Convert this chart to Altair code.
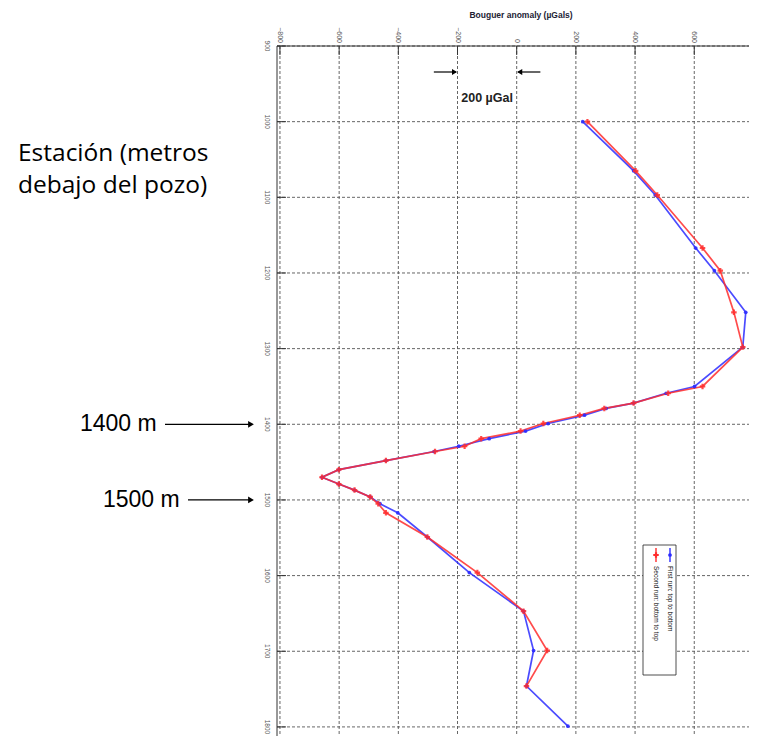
import altair as alt
import pandas as pd

# Station depth (m below wellhead) and Bouguer anomaly (µGal) for each run
depth = [1000, 1065, 1097, 1167, 1197, 1252, 1298, 1350, 1359, 1372, 1379, 1388,
         1399, 1409, 1419, 1429, 1436, 1448, 1460, 1470, 1479, 1487, 1496, 1505,
         1517, 1549, 1596, 1647, 1699, 1746, 1799]
run1 = [223, 395, 468, 605, 668, 774, 764, 601, 505, 395, 302, 229,
        106, 30, -93, -196, -279, -442, -601, -658, -601, -548, -495, -462,
        -402, -302, -160, 23, 57, 33, 173]
run2 = [239, 402, 475, 628, 688, 734, 764, 628, 512, 395, 296, 213,
        90, 13, -120, -176, -276, -442, -601, -658, -601, -548, -495, -468,
        -442, -302, -133, 23, 103, 33, None]
series_names = ["First run: top to bottom", "Second run: bottom to top"]
series_colors = ["#2b2bff", "#ff2b2b"]
x_ticks = [-800, -600, -400, -200, 0, 200, 400, 600]
y_ticks = [900, 1000, 1100, 1200, 1300, 1400, 1500, 1600, 1700, 1800]

W, H = 472, 690

rows = []
for i, d in enumerate(depth):
    rows.append({"serie": series_names[0], "depth": d, "anom": run1[i], "idx": i})
    if run2[i] is not None:
        rows.append({"serie": series_names[1], "depth": d, "anom": run2[i], "idx": i})
df = pd.DataFrame(rows)

xs = alt.Scale(domain=[-810, 785], nice=False, zero=False)
ys = alt.Scale(domain=[900, 1812], nice=False, zero=False, reverse=True)
color = alt.Color("serie:N", scale=alt.Scale(domain=series_names, range=series_colors), legend=None)


def X(f):
    return alt.X(f, scale=xs, axis=None)


def Y(f):
    return alt.Y(f, scale=ys, axis=None)


xt = pd.DataFrame({"v": x_ticks})
yt = pd.DataFrame({"v": y_ticks})
one = pd.DataFrame({"k": [0]})

# grid, frame, ticks, labels
grid_v = alt.Chart(xt).mark_rule(color="#555", strokeWidth=0.9, strokeDash=[3, 2]).encode(
    x=X("v:Q"), y=alt.value(0), y2=alt.value(H))
grid_h = alt.Chart(yt).mark_rule(color="#555", strokeWidth=0.9, strokeDash=[3, 2]).encode(
    y=Y("v:Q"), x=alt.value(0), x2=alt.value(W))
dom_top = alt.Chart(one).mark_rule(color="#333", strokeWidth=1).encode(
    x=alt.value(0), x2=alt.value(W), y=alt.value(0))
dom_left = alt.Chart(one).mark_rule(color="#333", strokeWidth=1).encode(
    y=alt.value(0), y2=alt.value(H), x=alt.value(0))
ticks_top = alt.Chart(xt).mark_rule(color="#333", strokeWidth=1).encode(
    x=X("v:Q"), y=alt.value(0), y2=alt.value(9))
ticks_left = alt.Chart(yt).mark_rule(color="#333", strokeWidth=1).encode(
    y=Y("v:Q"), x=alt.value(0), x2=alt.value(9))
lab_top = alt.Chart(xt).mark_text(angle=90, align="right", baseline="middle", fontSize=7,
                                  color="#555").encode(
    x=X("v:Q"), y=alt.value(-3), text=alt.Text("v:Q", format="d"))
lab_left = alt.Chart(yt).mark_text(angle=90, align="center", baseline="top", fontSize=6.5,
                                   color="#555").encode(
    y=Y("v:Q"), x=alt.value(-7), text=alt.Text("v:Q", format="d"))

lines = alt.Chart(df).mark_line(strokeWidth=1.7, opacity=0.85).encode(
    x=X("anom:Q"), y=Y("depth:Q"), color=color, order="idx:Q")
pts_blue = alt.Chart(df).transform_filter(alt.datum.serie == series_names[0]).mark_point(
    shape="circle", filled=True, size=14, opacity=0.9).encode(
    x=X("anom:Q"), y=Y("depth:Q"), color=color)
pts_red = alt.Chart(df).transform_filter(alt.datum.serie == series_names[1]).mark_point(
    shape="cross", filled=True, size=30, opacity=0.85).encode(
    x=X("anom:Q"), y=Y("depth:Q"), color=color)

title = alt.Chart(one).mark_text(text="Bouguer anomaly (µGals)", fontSize=8.5, fontWeight="bold",
                                 color="#223", align="center", baseline="middle").encode(
    x=alt.value(244), y=alt.value(-31))

est1 = alt.Chart(one).mark_text(text="Estación (metros", font="Open Sans", fontSize=24.5,
                                color="black", align="left", baseline="alphabetic").encode(
    x=alt.value(-259), y=alt.value(115))
est2 = alt.Chart(one).mark_text(text="debajo del pozo)", font="Open Sans", fontSize=24.5,
                                color="black", align="left", baseline="alphabetic").encode(
    x=alt.value(-259), y=alt.value(147))

mark_depths = pd.DataFrame({"d": [1400, 1500], "lab": ["1400 m", "1500 m"]})
lab1400 = alt.Chart(mark_depths).transform_filter(alt.datum.d == 1400).mark_text(
    fontSize=23, color="black", align="left", baseline="middle").encode(
    x=alt.value(-197), y=Y("d:Q"), text="lab:N")
lab1500 = alt.Chart(mark_depths).transform_filter(alt.datum.d == 1500).mark_text(
    fontSize=23, color="black", align="left", baseline="middle").encode(
    x=alt.value(-174), y=Y("d:Q"), text="lab:N")
arr1400 = alt.Chart(mark_depths).transform_filter(alt.datum.d == 1400).mark_rule(
    color="black", strokeWidth=1.2).encode(
    x=alt.value(-112), x2=alt.value(-28), y=Y("d:Q"))
arr1500 = alt.Chart(mark_depths).transform_filter(alt.datum.d == 1500).mark_rule(
    color="black", strokeWidth=1.2).encode(
    x=alt.value(-89), x2=alt.value(-28), y=Y("d:Q"))
head_depth = alt.Chart(mark_depths).mark_point(shape="triangle-right", filled=True, size=45,
                                               color="black", opacity=1).encode(
    x=alt.value(-26), y=Y("d:Q"))

# 200 µGal scale marker
scale_df = pd.DataFrame({"a": [-280, 80], "b": [-205, 5], "tip": [-210, 10],
                         "shape": ["triangle-right", "triangle-left"]})
scale_rules = alt.Chart(scale_df).mark_rule(color="black", strokeWidth=1.2).encode(
    x=X("a:Q"), x2="b:Q", y=alt.value(26))
scale_heads = alt.Chart(scale_df).mark_point(filled=True, size=35, color="black", opacity=1).encode(
    x=X("tip:Q"), y=alt.value(26), shape=alt.Shape("shape:N", scale=None, legend=None))
scale_lab = alt.Chart(pd.DataFrame({"c": [-100]})).mark_text(
    text="200 µGal", fontSize=12.5, fontWeight="bold", color="#222",
    align="center", baseline="middle").encode(
    x=X("c:Q"), y=alt.value(52))

# legend box (rotated)
leg_box = alt.Chart(one).mark_rect(fill="white", stroke="#222", strokeWidth=0.8).encode(
    x=alt.value(366), x2=alt.value(399), y=alt.value(499), y2=alt.value(629))
legend_layers = []
for name, col, lx, shp, sz in [(series_names[0], series_colors[0], 393, "circle", 14),
                               (series_names[1], series_colors[1], 379, "cross", 30)]:
    legend_layers.append(alt.Chart(one).mark_rule(strokeWidth=1.4, color=col).encode(
        x=alt.value(lx), y=alt.value(502), y2=alt.value(516)))
    legend_layers.append(alt.Chart(one).mark_point(shape=shp, filled=True, size=sz, color=col,
                                                   opacity=1).encode(
        x=alt.value(lx), y=alt.value(509)))
    legend_layers.append(alt.Chart(one).mark_text(text=name, angle=90, fontSize=6.5, color="#111",
                                                  align="left", baseline="middle").encode(
        x=alt.value(lx), y=alt.value(520)))

chart = alt.layer(
    grid_v, grid_h, dom_top, dom_left, ticks_top, ticks_left, lab_top, lab_left,
    lines, pts_blue, pts_red, title, est1, est2,
    lab1400, lab1500, arr1400, arr1500, head_depth, scale_rules, scale_heads, scale_lab,
    leg_box, *legend_layers,
).properties(
    width=W, height=H,
    padding={"left": 269, "top": 38, "right": 0, "bottom": 0},
    autosize=alt.AutoSizeParams(type="none"),
).configure(font="Liberation Sans").configure_view(stroke=None)

chart.save("out.html", embed_options={"renderer": "svg", "actions": False})
